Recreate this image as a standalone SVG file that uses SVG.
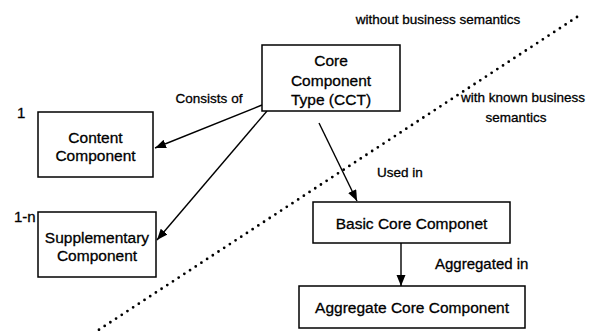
<svg xmlns="http://www.w3.org/2000/svg" width="594" height="331" viewBox="0 0 594 331">
<defs>
<style>
.box{fill:#fff;stroke:#000;stroke-width:1.5}
.nt{font-family:"Liberation Sans",Arial,sans-serif;font-size:15.5px;fill:#000;stroke:#000;stroke-width:0.3;text-anchor:middle}
.lb{font-family:"Liberation Sans",Arial,sans-serif;font-size:13.5px;fill:#000;stroke:#000;stroke-width:0.3}
.ln{stroke:#000;stroke-width:1.4;fill:none}
.dot{stroke:#000;stroke-width:2.8;stroke-linecap:round;stroke-dasharray:0 6.8;fill:none}
</style>
<marker id="ah" markerWidth="12" markerHeight="10" refX="11" refY="4.5" orient="auto" markerUnits="userSpaceOnUse">
<path d="M0,0 L11,4.5 L0,9 z" fill="#000"/>
</marker>
</defs>
<rect width="594" height="331" fill="#fff"/>
<g id="divider">
<line class="dot" x1="577" y1="17" x2="97" y2="331"/>
</g>
<g id="connectors">
<line class="ln" x1="262" y1="105" x2="155" y2="148" marker-end="url(#ah)"/>
<line class="ln" x1="267" y1="111" x2="157" y2="240" marker-end="url(#ah)"/>
<line class="ln" x1="319" y1="123" x2="357" y2="201" marker-end="url(#ah)"/>
<line class="ln" x1="401" y1="243" x2="401" y2="286" marker-end="url(#ah)"/>
</g>
<g id="cct">
<rect class="box" x="262" y="45" width="138" height="66"/>
<text class="nt" x="331" y="65.5">Core</text>
<text class="nt" x="331" y="85.5">Component</text>
<text class="nt" x="331" y="104.5">Type (CCT)</text>
</g>
<g id="content">
<rect class="box" x="38" y="112" width="115" height="65"/>
<text class="nt" x="95.5" y="142.5">Content</text>
<text class="nt" x="95.5" y="160.5">Component</text>
</g>
<g id="supplementary">
<rect class="box" x="38" y="212" width="118" height="65"/>
<text class="nt" x="97" y="242.5">Supplementary</text>
<text class="nt" x="97" y="260.5">Component</text>
</g>
<g id="basic">
<rect class="box" x="313" y="202" width="197" height="41"/>
<text class="nt" x="411.5" y="228.5">Basic Core Componet</text>
</g>
<g id="aggregate">
<rect class="box" x="299" y="286" width="226" height="42"/>
<text class="nt" x="412" y="312.5">Aggregate Core Component</text>
</g>
<g id="labels">
<text class="lb" x="17" y="117.5" style="font-size:15px">1</text>
<text class="lb" x="14" y="222" style="font-size:15px">1-n</text>
<text class="lb" x="209" y="103" text-anchor="middle">Consists of</text>
<text class="lb" x="377" y="177">Used in</text>
<text class="lb" x="435" y="269" style="font-size:15px">Aggregated in</text>
<text class="lb" x="438" y="24" text-anchor="middle">without business semantics</text>
<text class="lb" x="523" y="102" text-anchor="middle">with known business</text>
<text class="lb" x="516" y="122" text-anchor="middle">semantics</text>
</g>
</svg>
